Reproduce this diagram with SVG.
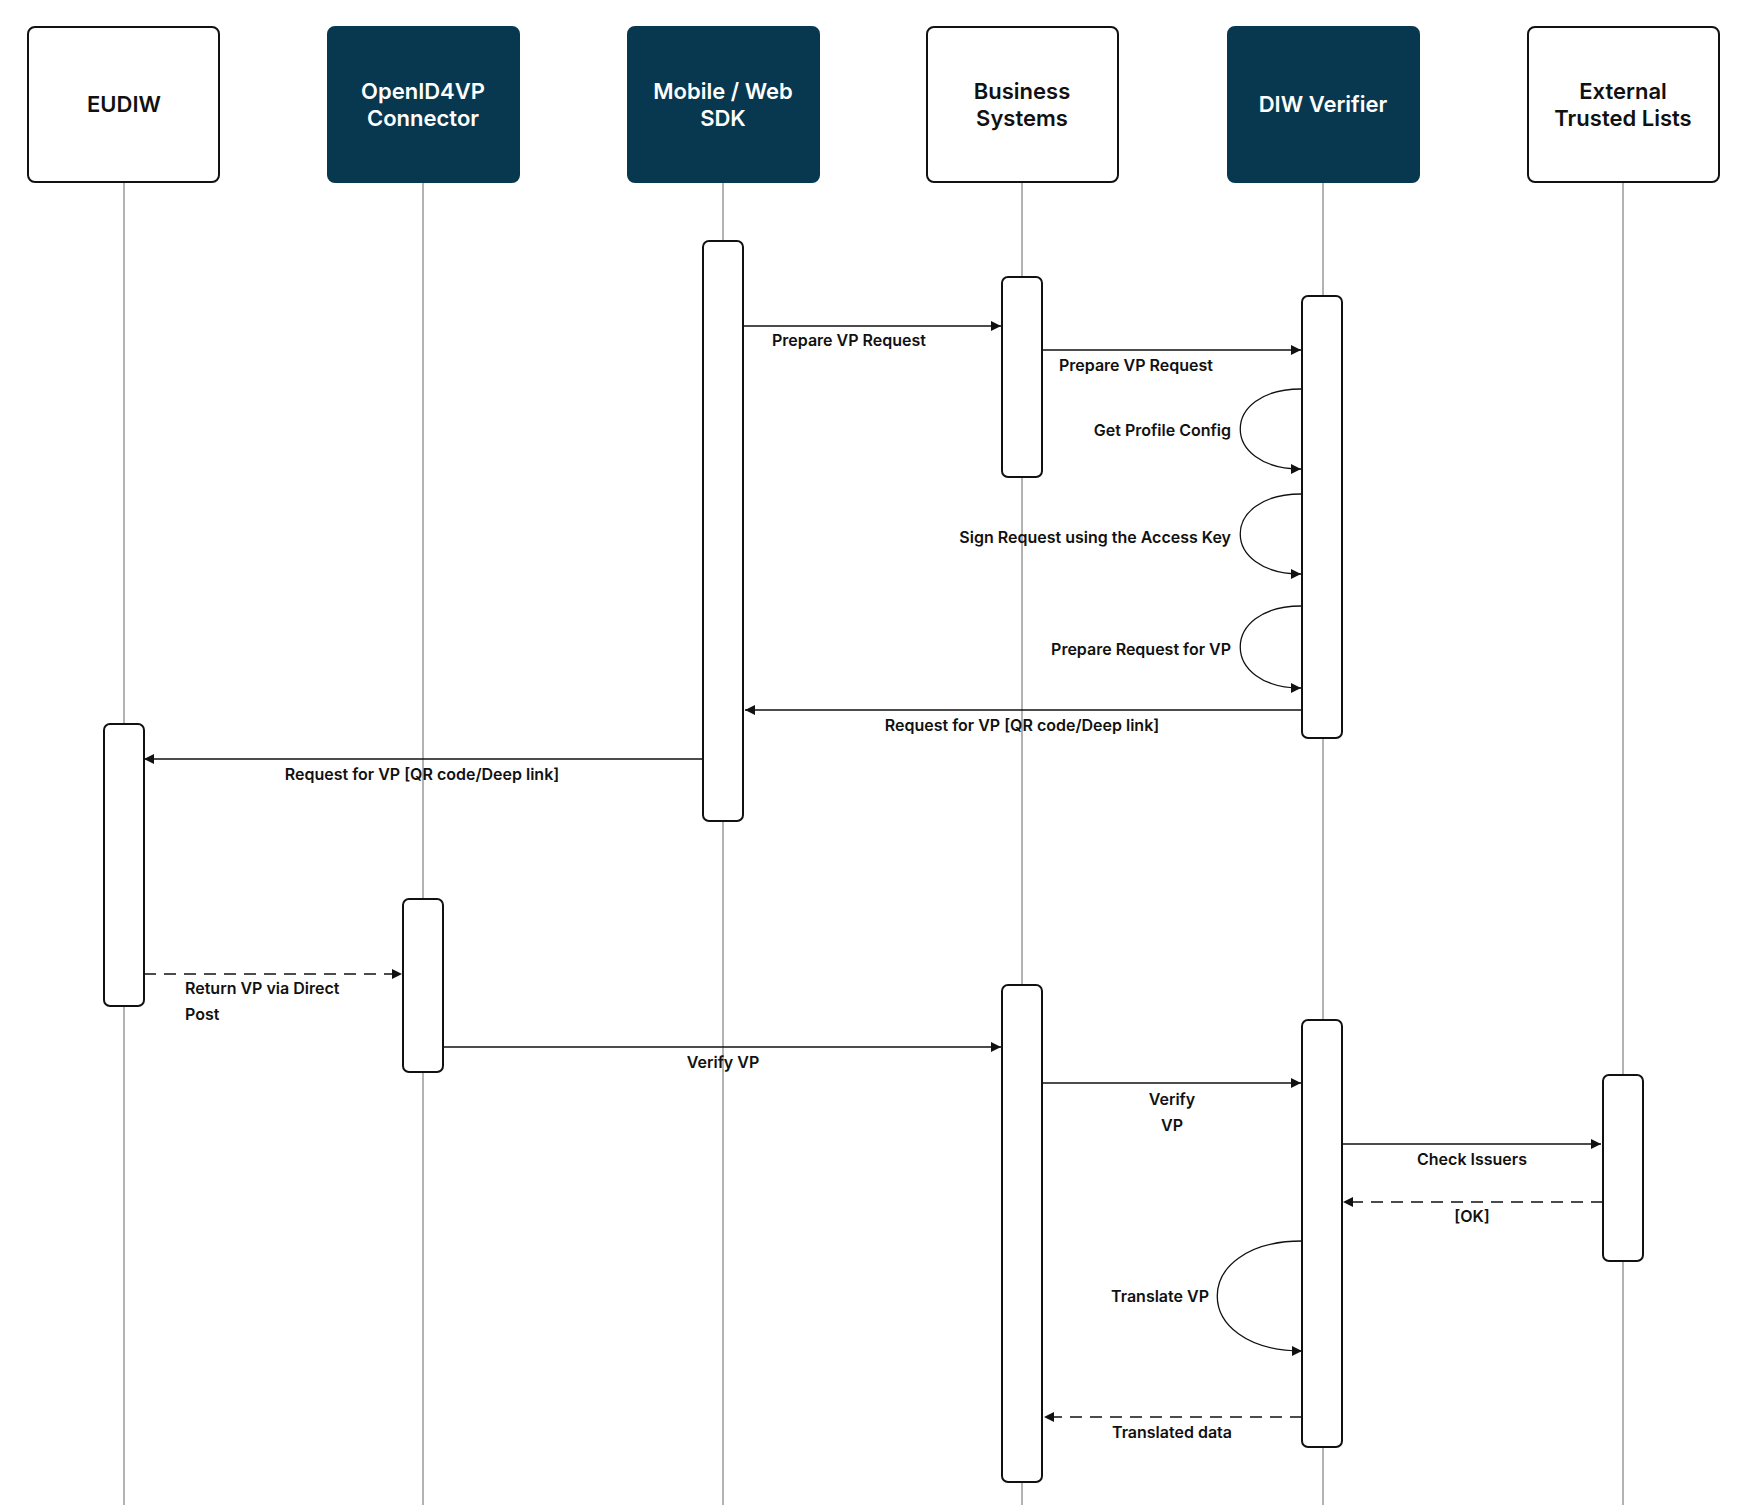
<svg xmlns="http://www.w3.org/2000/svg" width="1742" height="1505" viewBox="0 0 1742 1505">
<style>
.hd{stroke:#111;stroke-width:2;fill:#fff}
.dk{fill:#08384f;stroke:#08384f;stroke-width:2}
.ht{font-family:Inter,"Liberation Sans",sans-serif;font-weight:600;font-size:22px;text-anchor:middle;fill:#111}
.hw{fill:#fff}
.ll{stroke:#666;stroke-width:1}
.act{fill:#fff;stroke:#111;stroke-width:2}
.m{stroke:#111;stroke-width:1.3;fill:none;marker-end:url(#a)}
.d{stroke-dasharray:12 8}
.t{font-family:Inter,"Liberation Sans",sans-serif;font-weight:600;font-size:16px;fill:#111}
.c{text-anchor:middle}
.e{text-anchor:end}
</style>
<defs>
<marker id="a" viewBox="0 0 10 10" refX="10" refY="5" markerWidth="13" markerHeight="10" markerUnits="userSpaceOnUse" orient="auto"><path d="M0 0L10 5L0 10z" fill="#111"/></marker>
</defs>
<rect width="1742" height="1505" fill="#fff"/>
<g id="lifelines">
<line class="ll" x1="124" y1="182" x2="124" y2="1505"/>
<line class="ll" x1="423" y1="182" x2="423" y2="1505"/>
<line class="ll" x1="723" y1="182" x2="723" y2="1505"/>
<line class="ll" x1="1022" y1="182" x2="1022" y2="1505"/>
<line class="ll" x1="1323" y1="182" x2="1323" y2="1505"/>
<line class="ll" x1="1623" y1="182" x2="1623" y2="1505"/>
</g>
<g id="eudiw"><rect class="hd" x="28" y="27" width="191" height="155" rx="7"/><text class="ht" x="124" y="112">EUDIW</text></g>
<g id="connector"><rect class="dk" x="328" y="27" width="191" height="155" rx="7"/><text class="ht hw" x="423" y="99">OpenID4VP</text><text class="ht hw" x="423" y="126">Connector</text></g>
<g id="sdk"><rect class="dk" x="628" y="27" width="191" height="155" rx="7"/><text class="ht hw" x="723" y="99">Mobile / Web</text><text class="ht hw" x="723" y="126">SDK</text></g>
<g id="business"><rect class="hd" x="927" y="27" width="191" height="155" rx="7"/><text class="ht" x="1022" y="99">Business</text><text class="ht" x="1022" y="126">Systems</text></g>
<g id="verifier"><rect class="dk" x="1228" y="27" width="191" height="155" rx="7"/><text class="ht hw" x="1323" y="112">DIW Verifier</text></g>
<g id="trusted"><rect class="hd" x="1528" y="27" width="191" height="155" rx="7"/><text class="ht" x="1623" y="99">External</text><text class="ht" x="1623" y="126">Trusted Lists</text></g>
<g id="activations">
<rect class="act" x="703" y="241" width="40" height="580" rx="6"/>
<rect class="act" x="1002" y="277" width="40" height="200" rx="6"/>
<rect class="act" x="1302" y="296" width="40" height="442" rx="6"/>
<rect class="act" x="104" y="724" width="40" height="282" rx="6"/>
<rect class="act" x="403" y="899" width="40" height="173" rx="6"/>
<rect class="act" x="1002" y="985" width="40" height="497" rx="6"/>
<rect class="act" x="1302" y="1020" width="40" height="427" rx="6"/>
<rect class="act" x="1603" y="1075" width="40" height="186" rx="6"/>
</g>
<g id="connectors">
<line class="m" x1="743" y1="326" x2="1001" y2="326"/>
<line class="m" x1="1042" y1="350" x2="1301" y2="350"/>
<path class="m" d="M1301 389C1220 389 1220 469 1301 469"/>
<path class="m" d="M1301 494C1220 494 1220 574 1301 574"/>
<path class="m" d="M1301 606C1220 606 1220 688 1301 688"/>
<line class="m" x1="1301" y1="710" x2="745" y2="710"/>
<line class="m" x1="702" y1="759" x2="144" y2="759"/>
<line class="m d" x1="144" y1="974" x2="402" y2="974"/>
<line class="m" x1="443" y1="1047" x2="1001" y2="1047"/>
<line class="m" x1="1042" y1="1083" x2="1301" y2="1083"/>
<line class="m" x1="1342" y1="1144" x2="1601" y2="1144"/>
<line class="m d" x1="1603" y1="1202" x2="1343" y2="1202"/>
<path class="m" d="M1302 1241C1189 1241 1189 1351 1302 1351"/>
<line class="m d" x1="1302" y1="1417" x2="1044" y2="1417"/>
</g>
<g id="labels">
<text class="t" x="772" y="346" font-size="15">Prepare VP Request</text>
<text class="t" x="1059" y="371">Prepare VP Request</text>
<text class="t e" x="1231" y="436">Get Profile Config</text>
<text class="t e" x="1231" y="543">Sign Request using the Access Key</text>
<text class="t e" x="1231" y="655">Prepare Request for VP</text>
<text class="t c" x="1022" y="731">Request for VP [QR code/Deep link]</text>
<text class="t c" x="422" y="780">Request for VP [QR code/Deep link]</text>
<text class="t" x="185" y="994">Return VP via Direct</text>
<text class="t" x="185" y="1020">Post</text>
<text class="t c" x="723" y="1068">Verify VP</text>
<text class="t c" x="1172" y="1105">Verify</text>
<text class="t c" x="1172" y="1131">VP</text>
<text class="t c" x="1472" y="1165">Check Issuers</text>
<text class="t c" x="1472" y="1222">[OK]</text>
<text class="t e" x="1209" y="1302">Translate VP</text>
<text class="t c" x="1172" y="1438">Translated data</text>
</g>
</svg>
